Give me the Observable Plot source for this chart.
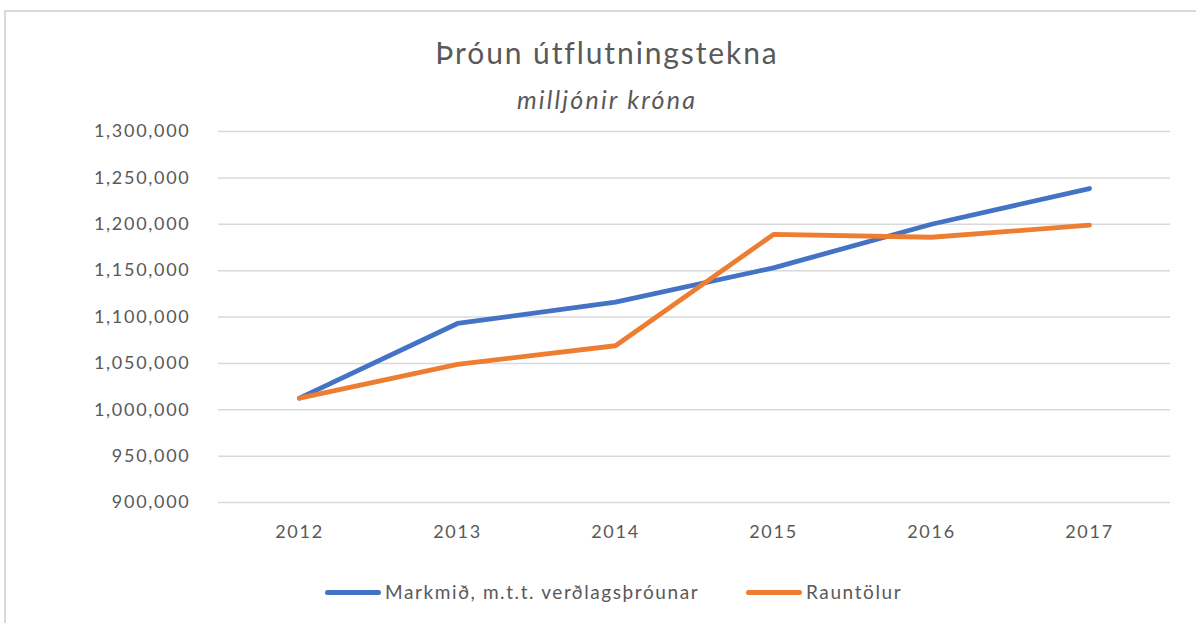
<!DOCTYPE html>
<html>
<head>
<meta charset="utf-8">
<script src="https://cdn.jsdelivr.net/npm/d3@7"></script>
<script src="https://cdn.jsdelivr.net/npm/@observablehq/plot@0.6"></script>
<style>
  html, body { margin: 0; padding: 0; background: #fff; }
  body { width: 1196px; height: 623px; position: relative; overflow: hidden; font-family: Lato, "Open Sans", sans-serif; color: #595959; }
  #frame { position: absolute; left: 4px; top: 10px; width: 1300px; height: 700px; border: 2px solid #d9d9d9; box-sizing: border-box; }
  #title { position: absolute; left: 0; width: 1214px; top: 34px; text-align: center; font-size: 30px; letter-spacing: 1.9px; line-height: 36px; }
  #subtitle { position: absolute; left: 0; width: 1214px; top: 83px; text-align: center; font-size: 25px; letter-spacing: 2.2px; font-style: italic; line-height: 32px; }
  #chart { position: absolute; left: 0; top: 120px; }
  .leg { position: absolute; top: 580px; font-size: 19px; letter-spacing: 1.6px; line-height: 24px; display: flex; align-items: center; }
  .leg .sw { width: 56px; height: 5px; border-radius: 3px; margin-right: 4px; }
</style>
</head>
<body>
<div id="frame"></div>
<div id="title">Þróun útflutningstekna</div>
<div id="subtitle">milljónir króna</div>
<div id="chart"></div>
<div class="leg" style="left:325px"><div class="sw" style="background:#4472C4"></div><span id="l1"></span></div>
<div class="leg" style="left:746px"><div class="sw" style="background:#ED7D31"></div><span id="l2"></span></div>
<script>
const years = ["2012", "2013", "2014", "2015", "2016", "2017"];
const markmid = [1012500, 1093000, 1116000, 1153000, 1200000, 1238500];
const rauntolur = [1012500, 1049000, 1069000, 1189000, 1186000, 1199000];
const seriesNames = ["Markmið, m.t.t. verðlagsþróunar", "Rauntölur"];
const seriesColors = ["#4472C4", "#ED7D31"];
const yTicks = [900000, 950000, 1000000, 1050000, 1100000, 1150000, 1200000, 1250000, 1300000];

document.getElementById("l1").textContent = seriesNames[0];
document.getElementById("l2").textContent = seriesNames[1];

const data = [];
years.forEach((y, i) => {
  data.push({year: y, value: markmid[i], series: seriesNames[0]});
  data.push({year: y, value: rauntolur[i], series: seriesNames[1]});
});

const chart = Plot.plot({
  width: 1196,
  height: 440,
  marginLeft: 218,
  marginRight: 26,
  marginTop: 11,
  marginBottom: 58,
  style: {fontFamily: "Lato, 'Open Sans', sans-serif", fontSize: "18px", letterSpacing: "1.7px", color: "#595959", background: "transparent"},
  x: {type: "point", domain: years, padding: 0.5, label: null},
  y: {domain: [900000, 1300000], label: null},
  color: {domain: seriesNames, range: seriesColors},
  marks: [
    Plot.gridY(yTicks, {stroke: "#d9d9d9", strokeOpacity: 1, strokeWidth: 1.5}),
    Plot.axisY(yTicks, {tickSize: 0, tickPadding: 28, tickFormat: d3.format(","), fill: "#595959", fontSize: 18}),
    Plot.axisX({tickSize: 0, tickPadding: 23, fill: "#595959", fontSize: 18}),
    Plot.line(data, {x: "year", y: "value", z: "series", stroke: "series", strokeWidth: 4.8, strokeLinecap: "round", strokeLinejoin: "round"})
  ]
});
document.getElementById("chart").appendChild(chart);
</script>
</body>
</html>
